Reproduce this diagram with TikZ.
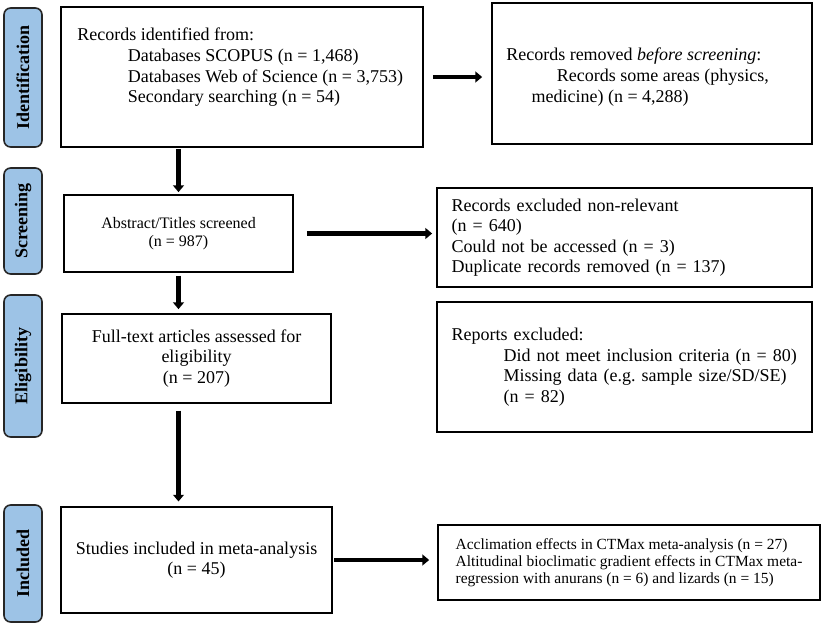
\documentclass[tikz,border=0pt]{standalone}
\usepackage{fontspec}
\setmainfont{Liberation Serif}
\usetikzlibrary{arrows.meta}

\definecolor{stageblue}{RGB}{157,195,230}
\newcommand{\tabin}[1]{\hspace*{#1pt}}

\tikzset{
    stage/.style={draw=black!85, line width=1.2pt, fill=stageblue, rounded corners=5pt,
        rotate=90, minimum height=28.5pt, inner sep=0pt,
        font=\fontsize{13.5}{15}\selectfont\bfseries},
    box/.style={draw, line width=1.3pt, inner sep=0pt, font=\fontsize{13.5}{15.4}\selectfont},
    leftbox/.style={box, align=left, inner xsep=11pt},
    midbox/.style={box, align=center},
    flow/.style={line width=3.5pt, -{Triangle[width=8pt,length=5pt]}}
}

\begin{document}
\begin{tikzpicture}[x=0.75pt, y=-0.75pt]
            \useasboundingbox (0,0) rectangle (829,626);

            % phases on the left
            \node[stage, minimum width=104.25pt] (ident-lab) at (23,77.5) {Identification};
            \node[stage, minimum width=79.5pt] (screen-lab) at (23,221) {Screening};
            \node[stage, minimum width=106.5pt] (elig-lab) at (23,366) {Eligibility};
            \node[stage, minimum width=87.75pt] (incl-lab) at (23,563.5) {Included};

            % main column
            \node[box, minimum width=271.5pt, minimum height=105pt] (ident) at (242,77) {};
            \node[anchor=north west, inner sep=0pt, align=left, font=\fontsize{13.5}{15.4}\selectfont] (ident-txt) at (77,28)
                {Records identified from:\\
                 \tabin{38}Databases SCOPUS (n = 1,468)\\
                 \tabin{38}Databases Web of Science (n = 3,753)\\
                 \tabin{38}Secondary searching (n = 54)};
            \node[midbox, minimum width=171.75pt, minimum height=57.75pt, font=\fontsize{12}{13.5}\selectfont] (screen) at (178.5,233.5)
                {Abstract/Titles screened\\(n = 987)};
            \node[midbox, minimum width=201.75pt, minimum height=66.75pt] (elig) at (196.5,358.5)
                {Full-text articles assessed for\\eligibility\\(n = 207)};
            \node[midbox, minimum width=203.25pt, minimum height=79.5pt] (incl) at (196.5,560)
                {Studies included in meta-analysis\\(n = 45)};

            % side column
            \node[box, minimum width=240pt, minimum height=105.75pt] (removed) at (652,73.5) {};
            \node[anchor=north west, inner sep=0pt, align=left, font=\fontsize{13.5}{15.4}\selectfont] (removed-txt) at (506,48)
                {Records removed \textit{before screening}:\\
                 \tabin{38}Records some areas (physics,\\
                 \tabin{19}medicine) (n = 4,288)};
            \node[leftbox, text width=259.25pt, minimum height=74.25pt] (excl) at (624.5,237.5)
                {Records excluded non-relevant\\
                 (n = 640)\\
                 Could not be accessed (n = 3)\\
                 Duplicate records removed (n = 137)};
            \node[leftbox, text width=259.25pt, minimum height=97.5pt] (reports) at (624.5,367)
                {Reports excluded:\\
                 \tabin{39}Did not meet inclusion criteria (n = 80)\\
                 \tabin{39}Missing data (e.g.\ sample size/SD/SE)\\
                 \tabin{39}(n = 82)};
            \node[box, align=left, minimum width=286.5pt, minimum height=56.25pt, font=\fontsize{11.6}{12.8}\selectfont] (final) at (629,562.5)
                {Acclimation effects in CTMax meta-analysis (n = 27)\\
                 Altitudinal bioclimatic gradient effects in CTMax meta-\\
                 regression with anurans (n = 6) and lizards (n = 15)};

            % arrows
            \draw[flow, shorten <=6.75pt, shorten >=6.75pt] (ident.east) -- (ident.east -| removed.west);
            \draw[flow, shorten <=1pt, shorten >=1.5pt] (screen.north |- ident.south) -- (screen.north);
            \draw[flow, shorten <=9.75pt, shorten >=3pt] (screen.east) -- (screen.east -| excl.west);
            \draw[flow, shorten <=2pt, shorten >=3pt] (screen.south) -- (screen.south |- elig.north);
            \draw[flow, shorten <=5pt, shorten >=3.5pt] (screen.south |- elig.south) -- (screen.south |- incl.north);
            \draw[flow, shorten <=1pt, shorten >=6pt] (incl.east) -- (incl.east -| final.west);
\end{tikzpicture}
\end{document}
